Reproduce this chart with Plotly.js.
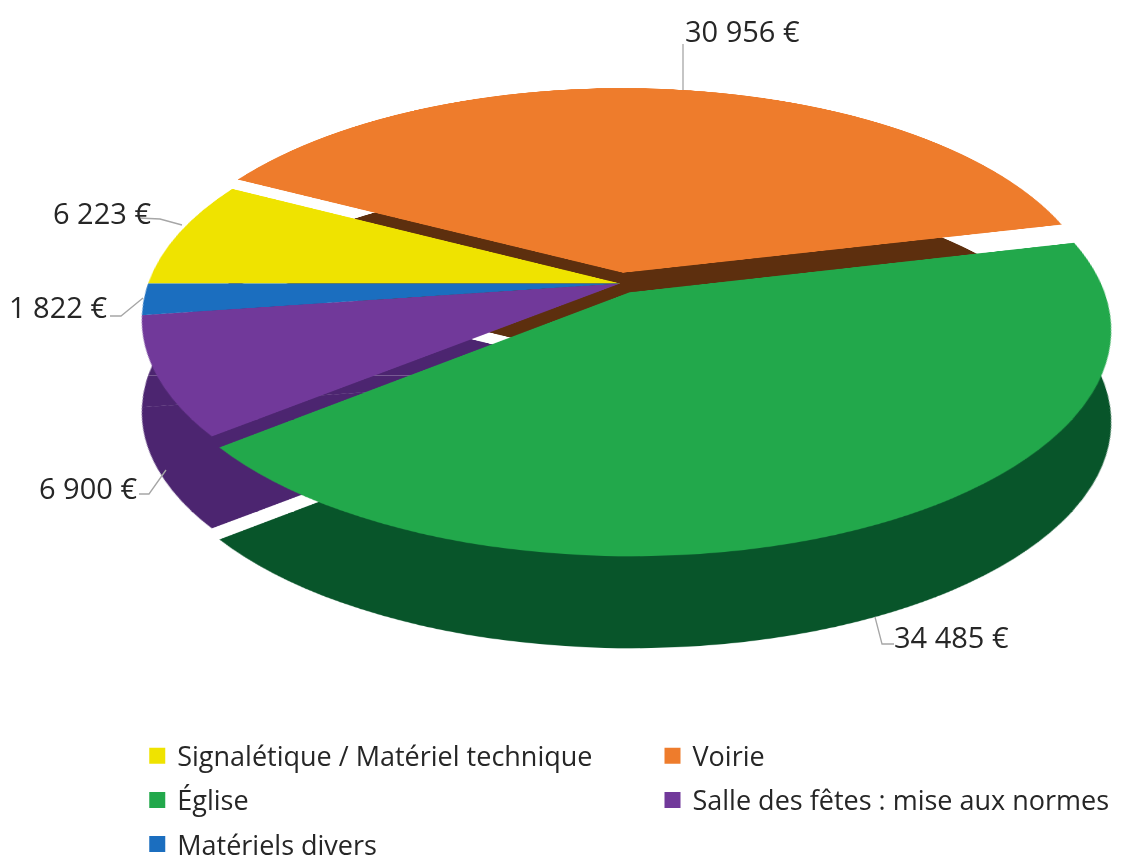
<!DOCTYPE html>
<html>
<head>
<meta charset="utf-8">
<script src="https://cdn.plot.ly/plotly-3.0.1.min.js"></script>
<style>
html,body{margin:0;padding:0;background:#fff;overflow:hidden;}
#wrap{position:relative;width:1125px;height:864px;overflow:hidden;background:#fff;}
.pie{position:absolute;left:0;top:-212.5px;width:1200px;height:991px;transform-origin:620px 495.5px;}
#side{transform:translateY(92px) perspective(2580px) rotateX(62.5deg);}
#top{transform:perspective(2580px) rotateX(62.5deg);}
#over{position:absolute;left:0;top:0;width:1125px;height:864px;pointer-events:none;}
</style>
</head>
<body>
<div id="wrap">
  <div id="side" class="pie"></div>
  <div id="top" class="pie"></div>
  <div id="over"></div>
</div>
<script>
// ---- data ----
var labels = ["Signalétique / Matériel technique", "Voirie", "Église", "Salle des fêtes : mise aux normes", "Matériels divers"];
var values = [6223, 30956, 34485, 6900, 1822];

// ---- styles ----
var colors = ["#EFE300", "#EE7C2C", "#22A84B", "#71399A", "#1B6EBF"];
// side-wall shades (the back-left slices only show through in front of the purple wall)
var sideColors = ["#4C2570", "#5D2F0E", "#08552A", "#4C2570", "#4C2570"];
var pulls = [0.0, 0.05, 0.045, 0.0, 0.0];
var fontFam = "Open Sans, Noto Sans, sans-serif";
var textColor = "#262626";

function fmt(v) {
  return String(v).replace(/\B(?=(\d{3})+(?!\d))/g, " ") + " €";
}

// ---- pie: a top face and a darker copy for the side wall, both tilted in perspective ----
function pieTrace(cols) {
  return {
    type: "pie", labels: labels, values: values, sort: false,
    direction: "clockwise", rotation: 270, pull: pulls,
    marker: {colors: cols, line: {width: 0}},
    textinfo: "none", hoverinfo: "label+value", showlegend: false,
    domain: {x: [0.1037, 0.9297], y: [0, 1]}
  };
}
var pieLayout = {
  width: 1200, height: 991,
  margin: {l: 0, r: 0, t: 0, b: 0},
  paper_bgcolor: "rgba(0,0,0,0)",
  showlegend: false
};
var cfg = {displayModeBar: false, staticPlot: true};
Plotly.newPlot("side", [pieTrace(sideColors)], pieLayout, cfg);
Plotly.newPlot("top", [pieTrace(colors)], pieLayout, cfg);

// ---- overlay: value labels with leader lines + legend ----
// text centre of each value label, page pixels
var labelPos = [[102, 212], [742, 30], [951, 636], [88, 487], [58, 306]];
// leader line points (label end -> pie), page pixels
var leaderPts = [
  [[139, 218], [160, 219], [182, 225]],
  [[683, 44], [683, 90]],
  [[894, 644], [882, 644], [875, 617]],
  [[139, 494], [149, 494], [166, 470]],
  [[110, 316], [121, 316], [143, 298]]
];

var annotations = values.map(function (v, i) {
  return {
    xref: "x", yref: "y", x: labelPos[i][0], y: labelPos[i][1],
    text: fmt(v), showarrow: false,
    font: {family: fontFam, size: 29, color: textColor}
  };
});

var shapes = leaderPts.map(function (pts) {
  return {
    type: "path", xref: "x", yref: "y",
    path: pts.map(function (p, k) { return (k ? "L" : "M") + p[0] + "," + p[1]; }).join(" "),
    line: {color: "#A6A6A6", width: 1.3}
  };
});

var legendTraces = labels.map(function (lab, i) {
  return {
    type: "scatter", mode: "markers", x: [null], y: [null],
    name: lab, legendgroup: "g" + i,
    legend: (i % 2 === 0) ? "legend" : "legend2",
    marker: {symbol: "square", size: 16, color: colors[i]},
    hoverinfo: "skip"
  };
});

var legendCommon = {
  orientation: "v", yanchor: "top", xanchor: "left",
  traceorder: "grouped", tracegroupgap: 6, itemsizing: "trace",
  bgcolor: "rgba(0,0,0,0)",
  font: {family: fontFam, size: 27, color: textColor}
};

Plotly.newPlot("over", legendTraces, {
  width: 1125, height: 864,
  margin: {l: 0, r: 0, t: 0, b: 0, autoexpand: false},
  paper_bgcolor: "rgba(0,0,0,0)", plot_bgcolor: "rgba(0,0,0,0)",
  xaxis: {range: [0, 1125], visible: false, fixedrange: true},
  yaxis: {range: [864, 0], visible: false, fixedrange: true},
  showlegend: true,
  legend: Object.assign({}, legendCommon, {x: 0.122, y: 0.153}),
  legend2: Object.assign({}, legendCommon, {x: 0.58, y: 0.153}),
  annotations: annotations,
  shapes: shapes
}, cfg);
</script>
</body>
</html>
